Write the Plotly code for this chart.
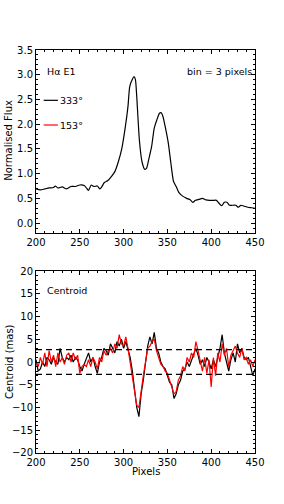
import numpy as np
import plotly.graph_objects as go
from plotly.subplots import make_subplots

# ---- Data ----
flux_px = [200, 205, 210, 215, 220, 222, 225, 230, 235, 240, 245, 250, 255, 258, 260, 263, 266, 270, 273,
           275, 278, 282, 286, 290, 294, 298, 302, 305, 307, 310, 312, 313.5, 315, 318, 321, 324, 326, 329,
           332, 335, 338, 341, 343, 345, 347, 349, 351, 354, 357, 360, 363, 367, 372, 376, 379, 382, 386,
           390, 394, 398, 402, 406, 409, 412, 415, 418, 421, 424, 428, 431, 434, 438, 442, 446, 450]
flux_val = [0.69, 0.67, 0.69, 0.71, 0.72, 0.75, 0.71, 0.73, 0.69, 0.74, 0.74, 0.77, 0.76, 0.70, 0.66, 0.77,
            0.74, 0.75, 0.69, 0.73, 0.82, 0.86, 0.94, 1.04, 1.24, 1.51, 1.95, 2.36, 2.76, 2.91, 2.96, 2.90,
            2.56, 1.68, 1.24, 1.09, 1.10, 1.31, 1.55, 1.92, 2.09, 2.22, 2.23, 2.15, 1.99, 1.82, 1.62, 1.21,
            0.84, 0.74, 0.62, 0.55, 0.50, 0.47, 0.42, 0.46, 0.48, 0.50, 0.47, 0.46, 0.46, 0.46, 0.40, 0.35,
            0.42, 0.42, 0.36, 0.36, 0.36, 0.32, 0.36, 0.34, 0.32, 0.31, 0.30]

cent_px = list(np.arange(200, 450.1, 2.5))
cent_333 = [0.5, -2, -1.5, 0, -1, 1, 0.5, -0.5, 1, 0,
            -0.5, 3, 1, 0, 1, 0.5, 1.5, 0, 1, 0.5,
            -1, -2, -0.5, 1, 2, 0, 1, -1, -2.5, 0,
            1, 3, 2.5, 1.5, 4, 3, 2, 4.5, 3.5, 5,
            3, 4.5, 2.5, 1, -2, -6, -10, -12, -7, -4,
            0, 3.5, 5.5, 4, 6.5, 3, 2, 0, -1, -1.5,
            -3, -4.5, -5, -8, -7, -5, -4, -2, -1.5, 0,
            -1, 0.5, 2, 3, 1.5, -0.5, 0.5, -1, 1, 0,
            -1.5, 0.5, -1, 1, 3, 6, 2, 0, -2, 0.5,
            2, 0, 4, 2, 3, 1, 0.5, 1, -1, -3, -1.5]
cent_153 = [0, -1, 1, -0.5, 2, -1, 2.5, 0, 1.5, -1,
            2, 0, 1, -0.5, 1.5, 2, 0, 2, 0.5, 1.5,
            -2.5, -1, -0.5, -1, 0.5, -1, 1, 0, -1.5, 1,
            0, 2.5, 1.5, 2.5, 3, 2, 4, 3, 6, 4,
            3.5, 5.5, 3, 0, -3, -6, -9.5, -10, -6, -3,
            0, 3, 3.5, 4.5, 5, 2.5, 1, -0.5, -1, -2,
            -2.5, -4, -5.5, -7, -6.5, -4, -3, -1, -2, 1,
            0, 2, 1, 4.5, 2.5, 0, -2, 1, -2.5, 0.5,
            -5.5, 1, -3, 2, 0, 4, 1.5, 3, -1, 1.5,
            2.5, 3.5, 2, 1, 3, 0.5, 1, -0.5, 0.5, -1, 0.5]
noise_level = 2.7

x_ticks = [200, 250, 300, 350, 400, 450]
flux_ticks = [0.0, 0.5, 1.0, 1.5, 2.0, 2.5, 3.0, 3.5]
cent_ticks = [-20, -15, -10, -5, 0, 5, 10, 15, 20]

FONT = "DejaVu Sans"

fig = make_subplots(rows=2, cols=1, vertical_spacing=0.0)

fig.add_trace(go.Scatter(x=flux_px, y=flux_val, mode="lines", line_shape="spline",
                         line=dict(color="black", width=1.2, smoothing=0.6), showlegend=False), row=1, col=1)
fig.add_trace(go.Scatter(x=cent_px, y=cent_333, mode="lines",
                         line=dict(color="black", width=1.2), showlegend=False), row=2, col=1)
fig.add_trace(go.Scatter(x=cent_px, y=cent_153, mode="lines",
                         line=dict(color="red", width=1.2), showlegend=False), row=2, col=1)
for lvl in (noise_level, -noise_level):
    fig.add_trace(go.Scatter(x=[200, 450], y=[lvl, lvl], mode="lines",
                             line=dict(color="black", width=1.3, dash="6px,4px"),
                             showlegend=False), row=2, col=1)

axis_common = dict(showline=True, linecolor="black", linewidth=1, mirror="allticks",
                   ticks="inside", ticklen=4, tickwidth=0.8, tickcolor="black",
                   showgrid=False, zeroline=False, automargin=False,
                   tickfont=dict(family=FONT, size=10, color="black"))

fig.update_xaxes(range=[200, 450], tickvals=x_ticks,
                 minor=dict(ticks="inside", ticklen=2, dtick=10, tickcolor="black", tickwidth=0.6),
                 **axis_common)
fig.update_yaxes(row=1, col=1, range=[-0.2, 3.5], tickvals=flux_ticks,
                 ticktext=[f"{v:.1f}" for v in flux_ticks],
                 minor=dict(ticks="inside", ticklen=2, dtick=0.1, tickcolor="black", tickwidth=0.6),
                 **axis_common)
fig.update_yaxes(row=2, col=1, range=[-20, 20], tickvals=cent_ticks,
                 minor=dict(ticks="inside", ticklen=2, dtick=1, tickcolor="black", tickwidth=0.6),
                 **axis_common)

fig.update_layout(
    width=284, height=504,
    margin=dict(l=36, r=29, t=50, b=51),
    paper_bgcolor="white", plot_bgcolor="white",
    font=dict(family=FONT, size=10, color="black"),
    showlegend=False,
)
fig.update_layout(yaxis=dict(domain=[0.546, 1.0]), yaxis2=dict(domain=[0.0, 0.4516]))

title_font = dict(family=FONT, size=10, color="black")
fig.add_annotation(xref="paper", yref="paper", x=-0.123, y=0.775, text="Normalised Flux",
                   textangle=-90, showarrow=False, xanchor="center", yanchor="middle", font=title_font)
fig.add_annotation(xref="paper", yref="paper", x=-0.123, y=0.2258, text="Centroid (mas)",
                   textangle=-90, showarrow=False, xanchor="center", yanchor="middle", font=title_font)
fig.add_annotation(xref="paper", yref="paper", x=0.5, y=-0.047, text="Pixels",
                   showarrow=False, xanchor="center", yanchor="middle", font=title_font)

txt = dict(family=FONT, size=9.5, color="black")
fig.add_annotation(xref="x domain", yref="y domain", x=0.04, y=0.88, text="Hα E1",
                   showarrow=False, xanchor="left", yanchor="middle", font=txt)
fig.add_annotation(xref="x domain", yref="y domain", x=0.995, y=0.88, text="bin = 3 pixels",
                   showarrow=False, xanchor="right", yanchor="middle", font=txt)
fig.add_annotation(xref="x domain", yref="y domain", x=0.1, y=0.725, text="333°",
                   showarrow=False, xanchor="left", yanchor="middle", font=txt)
fig.add_annotation(xref="x domain", yref="y domain", x=0.1, y=0.59, text="153°",
                   showarrow=False, xanchor="left", yanchor="middle", font=txt)
fig.add_shape(type="line", xref="x domain", yref="y domain", x0=0.035, x1=0.1, y0=0.725, y1=0.725,
              line=dict(color="black", width=1.2))
fig.add_shape(type="line", xref="x domain", yref="y domain", x0=0.035, x1=0.1, y0=0.59, y1=0.59,
              line=dict(color="red", width=1.2))
fig.add_annotation(xref="x2 domain", yref="y2 domain", x=0.04, y=0.895, text="Centroid",
                   showarrow=False, xanchor="left", yanchor="middle", font=txt)

# remove the default 8px page margin so the figure sits at the window's corner
fig.write_html("out.html", config={"displayModeBar": False},
               post_script="document.body.style.margin='0px';")
